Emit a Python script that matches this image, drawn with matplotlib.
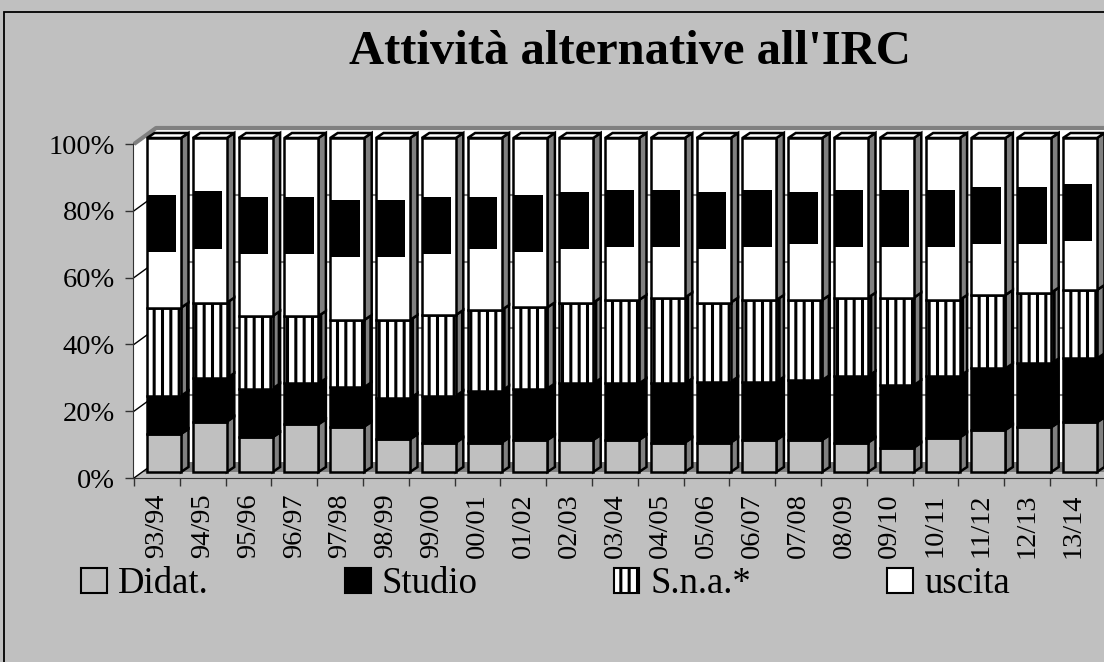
import matplotlib
matplotlib.use('Agg')
import matplotlib.pyplot as plt
from matplotlib.patches import Polygon, Rectangle, Patch
import numpy as np

# ---------------- data ----------------
years = ["93/94", "94/95", "95/96", "96/97", "97/98", "98/99", "99/00", "00/01",
         "01/02", "02/03", "03/04", "04/05", "05/06", "06/07", "07/08", "08/09",
         "09/10", "10/11", "11/12", "12/13", "13/14"]
didat = [11.4, 15.1, 10.4, 14.3, 13.6, 9.8, 8.8, 8.8, 9.6, 9.6, 9.6, 8.8, 8.8,
         9.6, 9.6, 8.8, 7.3, 10.3, 12.6, 13.4, 14.9]
studio = [11.4, 13.0, 14.6, 12.2, 11.8, 12.3, 14.0, 15.5, 15.4, 16.9, 16.9, 17.7,
          18.2, 17.4, 17.9, 19.9, 18.7, 18.4, 18.4, 19.1, 19.1]
sna = [26.4, 22.6, 21.7, 20.2, 20.1, 23.4, 24.2, 24.2, 24.3, 24.2, 25.0, 25.7,
       23.7, 24.5, 24.0, 23.5, 26.2, 22.8, 22.0, 21.2, 20.5]
uscita = [50.8, 49.3, 53.3, 53.3, 54.5, 54.5, 53.0, 51.5, 50.7, 49.3, 48.5, 47.8,
          49.3, 48.5, 48.5, 47.8, 47.8, 48.5, 47.0, 46.3, 45.5]
# dark block drawn inside the "uscita" segment (as in the original rendering)
block_low = [66.0, 66.8, 65.3, 65.3, 64.5, 64.5, 65.3, 66.8, 66.0, 66.8, 67.5, 67.5,
             66.8, 67.5, 68.3, 67.5, 67.5, 67.5, 68.3, 68.3, 69.3]
block_high = [83.0, 84.0, 82.4, 82.4, 81.4, 81.4, 82.2, 82.2, 82.9, 83.7, 84.4, 84.4,
              83.7, 84.4, 83.7, 84.4, 84.4, 84.4, 85.2, 85.2, 86.2]
series_names = ["Didat.", "Studio", "S.n.a.*", "uscita"]
yticks = [0, 20, 40, 60, 80, 100]

# ---------------- style ----------------
plt.rcParams['font.family'] = ['Liberation Serif', 'DejaVu Serif']
plt.rcParams['hatch.linewidth'] = 2.2
BG = '#c0c0c0'
DARK = '#808080'
front_colors = ['#c0c0c0', '#000000', '#ffffff', '#ffffff']
side_colors = ['#808080', '#000000', '#808080', '#808080']
hatches = [None, None, '||', None]

W, H = 1104, 662
fig = plt.figure(figsize=(W / 100, H / 100), dpi=100)
fig.patch.set_facecolor(BG)
fig.add_artist(Rectangle((4 / W, -0.1), 1.2, 1.1 - 12 / H, transform=fig.transFigure,
                         facecolor='none', edgecolor='black', linewidth=1.3))

# axes placed so that data units map to the bar front plane
SX, SY = 45.8, 3.34              # pixels per data unit
ax = fig.add_axes([133 / W, (H - 478) / H, (W - 133) / W, (478 - 120) / H])
ax.set_xlim((133 - 164) / SX, (W - 164) / SX)
ax.set_ylim((472 - 478) / SY, (472 - 120) / SY)
ax.patch.set_visible(False)

bar_w = 34 / SX
ddx, ddy = 7.5 / SX, 5 / SY            # bar depth
fpy = -6 / SY                          # front plane vertical offset
x0f = (134 - 164) / SX                 # front-left corner of the box
x0b = x0f + 22 / SX                    # back-left corner
byo = 10 / SY                          # back wall vertical offset
xr_end = 22

# back wall
ax.add_patch(Polygon([(x0b, byo), (xr_end, byo), (xr_end, 100 + byo), (x0b, 100 + byo)],
                     closed=True, facecolor='white', edgecolor='none', zorder=0))
# left wall
ax.add_patch(Polygon([(x0f, fpy), (x0b, byo), (x0b, 100 + byo), (x0f, 100 + fpy)],
                     closed=True, facecolor='white', edgecolor='none', zorder=0))
# floor
ax.add_patch(Polygon([(x0f + (x0b - x0f) * (-fpy) / (byo - fpy), 0), (xr_end, 0),
                      (xr_end, byo), (x0b, byo)],
                     closed=True, facecolor=DARK, edgecolor='none', zorder=0.5))
# gridlines
for v in yticks[1:-1]:
    ax.plot([x0b, xr_end], [v + byo, v + byo], color=DARK, lw=1.5, zorder=0.6)
for v in yticks:
    ax.plot([x0f, x0b], [v + fpy, v + byo], color='black', lw=1.0, zorder=0.6)
ax.plot([x0f, x0b, xr_end], [100 + fpy, 100 + byo, 100 + byo], color=DARK, lw=3,
        zorder=0.7, solid_capstyle='butt')

# ---------------- bars ----------------
vals = np.array([didat, studio, sna, uscita], dtype=float)
pct = vals / vals.sum(axis=0) * 100
cum = np.vstack([np.zeros(len(years)), np.cumsum(pct, axis=0)])
x = np.arange(len(years))
lw = 1.8
for k in range(4):
    ax.bar(x, pct[k], bottom=cum[k], width=bar_w, color=front_colors[k],
           edgecolor='black', linewidth=lw, hatch=hatches[k], zorder=3)
    for i in x:
        xr = i + bar_w / 2
        y0, y1 = cum[k][i], cum[k + 1][i]
        ax.add_patch(Polygon([(xr, y0), (xr + ddx, y0 + ddy), (xr + ddx, y1 + ddy), (xr, y1)],
                             closed=True, facecolor=side_colors[k], edgecolor='black',
                             linewidth=lw, hatch=hatches[k], zorder=2.5))
for i in x:
    xl, xr = i - bar_w / 2, i + bar_w / 2
    top = cum[-1][i]
    ax.add_patch(Polygon([(xl, top), (xl + ddx, top + ddy), (xr + ddx, top + ddy), (xr, top)],
                         closed=True, facecolor='white', edgecolor='black',
                         linewidth=lw, zorder=2.5))
blk_h = np.array(block_high) - np.array(block_low)
ax.bar(x - bar_w / 2 + 0.02, blk_h, bottom=block_low, width=bar_w * 0.84, align='edge',
       color='black', linewidth=0, zorder=4)

# ---------------- axes ----------------
for s in ['top', 'right']:
    ax.spines[s].set_visible(False)
ax.spines['left'].set_bounds(fpy, 100 + fpy)
ax.spines['left'].set_color('#333333')
ax.spines['bottom'].set_color('#333333')
ax.set_yticks([v + fpy for v in yticks])
ax.set_yticklabels([f"{v}%" for v in yticks], fontsize=20.5)
ax.tick_params(axis='y', direction='out', length=6, width=1, pad=7, color='#333333')
ax.set_xticks(x0f + np.arange(len(years) + 1))
ax.set_xticklabels([])
ax.tick_params(axis='x', which='major', direction='out', length=6, width=1, color='#333333')
ax.set_xticks(x0f + 0.5 + x, minor=True)
ax.set_xticklabels(years, minor=True, rotation=90, fontsize=20.5)
ax.tick_params(axis='x', which='minor', length=0, pad=11)

# ---------------- title & legend ----------------
fig.text(630 / W, 1 - 64 / H, "Attività alternative all'IRC", ha='center', va='baseline',
         fontsize=35, fontweight='bold')
handles = [Patch(facecolor=front_colors[k], edgecolor='black', linewidth=1.5,
                 hatch=hatches[k]) for k in range(4)]
fig.legend(handles, series_names, loc='center left', bbox_to_anchor=(81 / W, 1 - 584 / H),
           ncol=4, frameon=False, fontsize=26.5, handlelength=0.7, handleheight=0.65,
           handletextpad=0.3, columnspacing=3.7, borderpad=0, borderaxespad=0)

fig.savefig('out.png', dpi=100, facecolor=BG)
